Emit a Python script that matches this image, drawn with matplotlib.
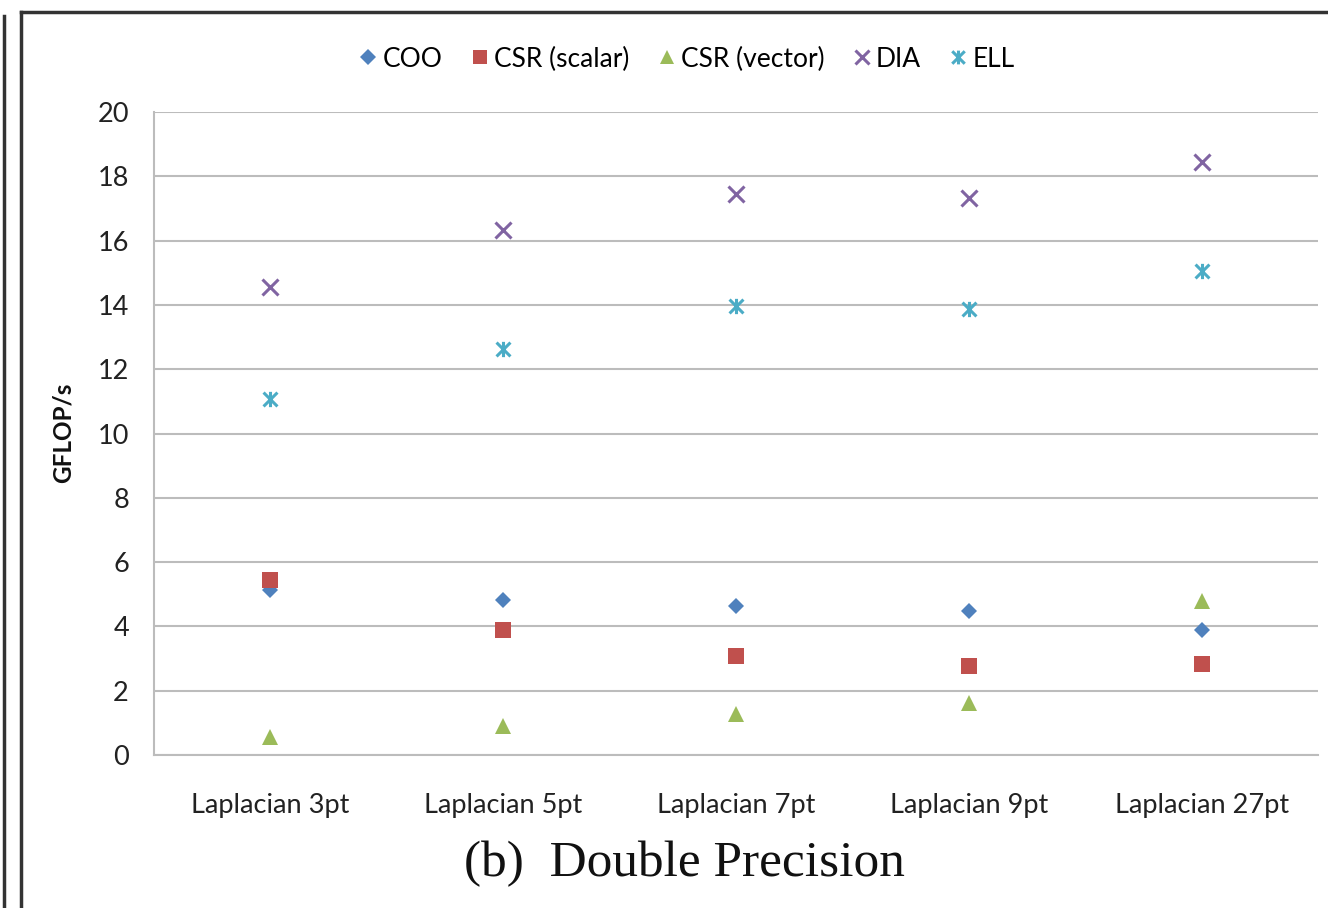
import numpy as np
import matplotlib.pyplot as plt
from matplotlib.lines import Line2D
from matplotlib.path import Path

categories = ["Laplacian 3pt", "Laplacian 5pt", "Laplacian 7pt",
              "Laplacian 9pt", "Laplacian 27pt"]
coo = [5.13, 4.82, 4.63, 4.48, 3.89]
csr_scalar = [5.44, 3.89, 3.08, 2.77, 2.83]
csr_vector = [0.56, 0.90, 1.28, 1.62, 4.79]
dia = [14.56, 16.33, 17.45, 17.33, 18.44]
ell = [11.07, 12.63, 13.97, 13.87, 15.05]

# excel-like star marker: x with a vertical stroke
star = Path([(-1, -1), (1, 1), (-1, 1), (1, -1), (0, -1.1), (0, 1.1)],
            [Path.MOVETO, Path.LINETO, Path.MOVETO, Path.LINETO,
             Path.MOVETO, Path.LINETO])

series = [
    ("COO", coo, "D", "#4F81BD", 8.5),
    ("CSR (scalar)", csr_scalar, "s", "#C0504D", 11),
    ("CSR (vector)", csr_vector, "^", "#9BBB59", 11),
    ("DIA", dia, "x", "#8064A2", 11),
    ("ELL", ell, star, "#4BACC6", 11),
]

plt.rcParams['font.family'] = ['Lato', 'DejaVu Sans']

fig = plt.figure(figsize=(13.28, 9.08), dpi=100)
ax = fig.add_axes([154 / 1328, 1 - 755 / 908, (1318 - 154) / 1328, (755 - 112) / 908])

x = np.arange(len(categories))
for name, vals, mk, col, ms in series:
    if mk == "x" or isinstance(mk, Path):
        ax.plot(x, vals, linestyle="none", marker=mk, color=col,
                markersize=ms, markeredgewidth=2.2, label=name)
    else:
        ax.plot(x, vals, linestyle="none", marker=mk, color=col,
                markersize=ms, markeredgewidth=0, label=name)

ax.set_xlim(-0.5, len(categories) - 0.5)
ax.set_ylim(0, 20)
ax.set_yticks(range(0, 21, 2))
ax.set_xticks(x)
ax.set_xticklabels(categories)
ax.tick_params(axis="both", length=0, labelsize=19.5, colors="#222222")
ax.tick_params(axis="y", pad=18)
ax.tick_params(axis="x", pad=27)
ax.grid(axis="y", color="#bcbcbc", linewidth=1.5)
ax.set_axisbelow(True)
for s in ["top", "right"]:
    ax.spines[s].set_visible(False)
for s in ["left", "bottom"]:
    ax.spines[s].set_color("#bcbcbc")
    ax.spines[s].set_linewidth(1.5)

fig.text(63 / 1328, 1 - 433 / 908, "GFLOP/s", rotation=90, ha="center",
         va="center", fontsize=17.5, fontweight="bold", color="#111111")

fig.legend(loc="center", bbox_to_anchor=(685 / 1328, 1 - 59 / 908), ncol=5,
           frameon=False, fontsize=19, handletextpad=0.05, columnspacing=0.9,
           handlelength=1.0, markerscale=0.9)

fig.text(684 / 1328, 1 - 864 / 908, "(b)  Double Precision", ha="center",
         va="center", fontsize=37, family=["Liberation Serif"], color="#111111")

# frame lines of the figure panel
fig.add_artist(Line2D([4 / 1328, 4 / 1328], [0, 1 - 16 / 908], color="#333333", linewidth=2.5))
fig.add_artist(Line2D([21 / 1328, 21 / 1328], [0, 1 - 12 / 908], color="#333333", linewidth=2.5))
fig.add_artist(Line2D([21 / 1328, 1], [1 - 12 / 908, 1 - 12 / 908], color="#333333", linewidth=2.5))

fig.savefig("out.png", dpi=100)
